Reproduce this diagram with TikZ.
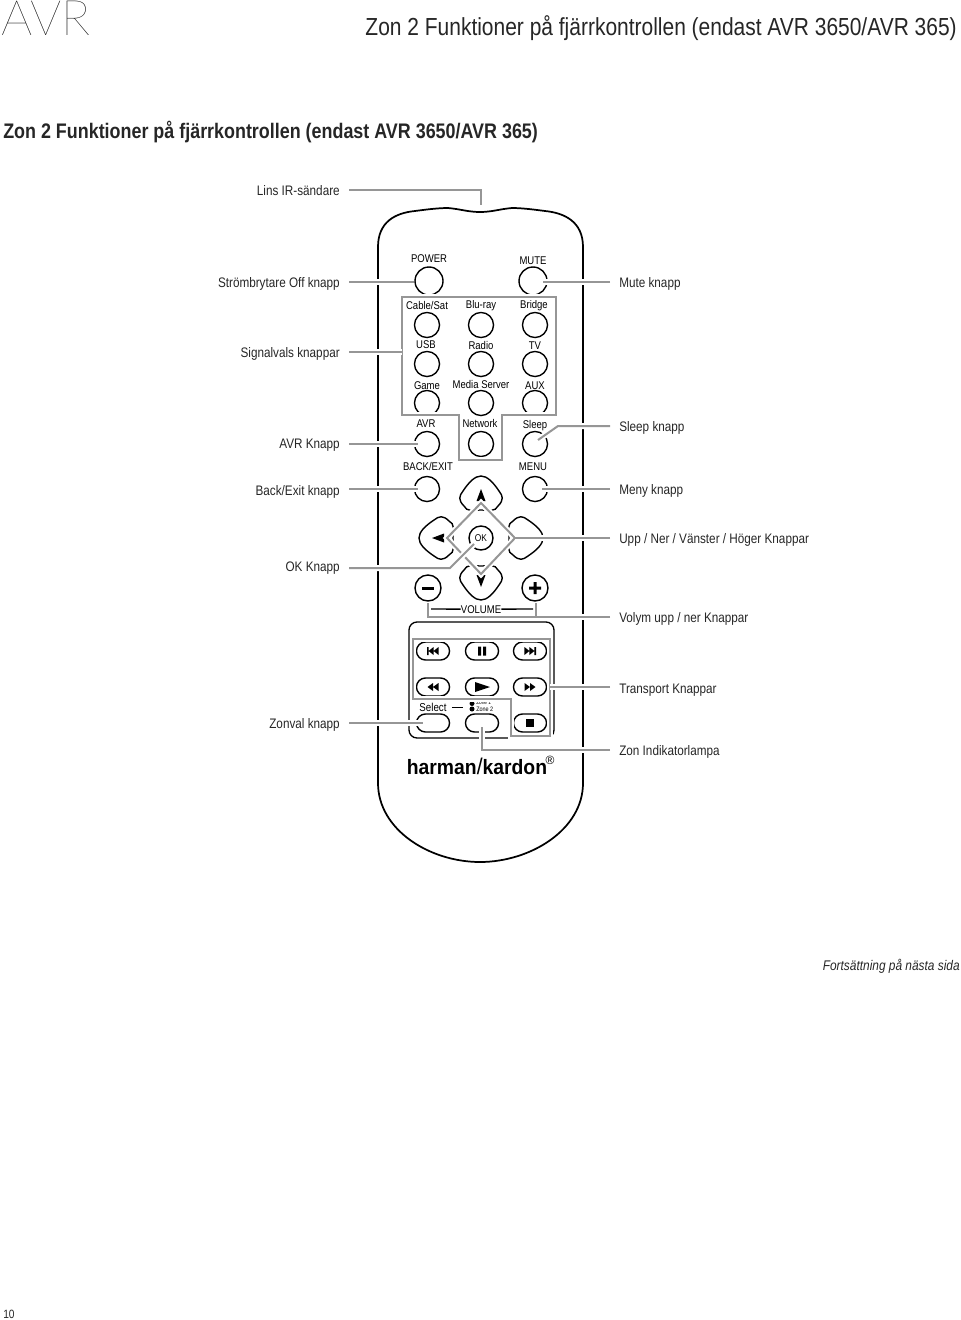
\documentclass[tikz,border=0pt]{standalone}
\usepackage{fontspec}
\setmainfont{Liberation Sans}
\newfontfamily\lightfont{Lato Thin}
\usetikzlibrary{shapes.misc, positioning, calc}
\definecolor{leadgray}{RGB}{150, 150, 150}
\newcommand{\narrowfont}{\addfontfeatures{FakeStretch=0.85}}
\tikzset{
  lbl/.style={font=\fontsize{10.35pt}{12pt}\selectfont\narrowfont, text=black!85, inner sep=0pt},
  keytext/.style={font=\fontsize{8.4pt}{10pt}\selectfont\narrowfont, inner sep=0pt, anchor=base},
  roundkey/.style={circle, draw, line width=1.05pt, minimum size=18.8pt, inner sep=0pt},
  pillkey/.style={rounded rectangle, draw, line width=1.05pt, minimum width=24.8pt, minimum height=13.5pt, inner sep=0pt},
  halo/.style={preaction={draw=white, line width=4.5pt}},
  leader/.style={draw=leadgray, line width=1.5pt, halo},
}
\begin{document}
\begin{tikzpicture}[x=0.75pt, y=-0.75pt]
  \useasboundingbox (0, 0) rectangle (960, 1320);

  % Page header
  \node[font=\fontsize{36.8pt}{38pt}\selectfont\lightfont, anchor=base west, inner sep=0pt] (pagetag) at (1, 36) {AVR};
  \node[font=\fontsize{18.5pt}{20pt}\selectfont\narrowfont, text=black!85, anchor=east, inner sep=0pt] (pagetitle) at (957, 28) {Zon 2 Funktioner på fjärrkontrollen (endast AVR 3650/AVR 365)};
  \node[font=\fontsize{15.8pt}{17pt}\selectfont\bfseries\narrowfont, text=black!85, anchor=west, inner sep=0pt] (heading) at (3, 132) {Zon 2 Funktioner på fjärrkontrollen (endast AVR 3650/AVR 365)};

  % Remote body
  \draw[line width=1.3pt] (378, 247) .. controls (378, 222) and (395, 213) .. (415, 211)
    .. controls (430, 209) and (440, 208) .. (448, 208)
    .. controls (460, 209) and (468, 212) .. (480, 212)
    .. controls (492, 212) and (500, 209) .. (512, 208)
    .. controls (520, 208) and (530, 209) .. (545, 211)
    .. controls (565, 213) and (583, 222) .. (583, 247)
    -- (583, 783) .. controls (583, 830) and (530, 862) .. (480, 862)
    .. controls (430, 862) and (378, 830) .. (378, 783) -- cycle;

  % Round buttons
  \node[roundkey, minimum size=21pt] (power) at (429, 281) {};
  \node[roundkey, minimum size=21pt] (mute) at (533, 281) {};
  \foreach \x/\y/\n in {427/325/cable, 481/325/bluray, 535/325/bridge, 427/364/usb, 481/364/radio, 535/364/tv,
      427/403/game, 481/403/media, 535/403/aux, 427/444/avr, 481/444/network, 535/444/sleep, 427/489/back, 535/489/menu} {
    \node[roundkey] (\n) at (\x, \y) {};
  }

  % Arrow keys
  \foreach \a in {0, 90, 180, 270} {
    \draw[line width=1.05pt, rotate around={\a:(481, 538)}] (481, 510)
      .. controls (472, 510) and (467, 512) .. (464, 506)
      .. controls (458, 500) and (459, 496) .. (463, 491)
      .. controls (469, 482) and (475, 476) .. (481, 476)
      .. controls (487, 476) and (493, 482) .. (499, 491)
      .. controls (503, 496) and (504, 500) .. (498, 506)
      .. controls (495, 512) and (490, 510) .. (481, 510);
  }
  \foreach \a in {0, 90, 180} {
    \fill[rotate around={\a:(481, 538)}] (481, 489) -- (485.5, 501) -- (476.5, 501) -- cycle;
  }
  \node[roundkey, minimum size=18pt, font=\fontsize{7.4pt}{9pt}\selectfont\narrowfont] (okkey) at (481, 538) {OK};

  % Volume
  \node[roundkey, minimum size=19.5pt] (volminus) at (428, 588) {};
  \node[roundkey, minimum size=19.5pt] (volplus) at (535, 588) {};
  \fill (422, 586.5) rectangle (434, 589.5);
  \fill (529, 586.5) rectangle (541, 589.5) (533.5, 582) rectangle (536.5, 594);
  \node[keytext] (volume) at (481, 613) {VOLUME};
  \coordinate (volleft) at (430, 609);
  \coordinate (volright) at (533, 609);
  \draw[line width=1pt] (volleft) -- (volume.west);
  \draw[line width=1pt] (volume.east) -- (volright);

  % Key labels
  \foreach \x/\y/\t/\n in {429/262/POWER/tpower, 533/264/MUTE/tmute, 427/309/{Cable/Sat}/tcable, 481/308/Blu-ray/tblu,
      534/308/Bridge/tbridge, 426/348/USB/tusb, 481/349/Radio/tradio, 535/349/TV/ttv, 427/389/Game/tgame,
      481/388/Media Server/tmedia, 535/389/AUX/taux, 426/427/AVR/tavr, 480/427/Network/tnet, 535/428/Sleep/tsleep,
      428/470/{BACK/EXIT}/tback, 533/470/MENU/tmenu} {
    \node[keytext] (\n) at (\x, \y) {\t};
  }

  % Transport panel
  \draw[line width=1pt, rounded corners=6pt] (409, 622) rectangle (554, 738);
  \foreach \x/\n in {433/a, 482/b, 530/c} {
    \foreach \y/\m in {651/1, 687/2, 723/3} {
      \node[pillkey] (pill\n\m) at (\x, \y) {};
    }
  }
  % Transport symbols
  \fill (pilla1.center) ++(-6, -4) rectangle ++(1.6, 8) (pilla1.center) ++(-4.4, 0) -- ++(5, -4) -- ++(0, 8) -- cycle (pilla1.center) ++(0.6, 0) -- ++(5, -4) -- ++(0, 8) -- cycle;
  \fill (pillb1.center) ++(-4, -4.5) rectangle ++(3, 9) (pillb1.center) ++(1, -4.5) rectangle ++(3, 9);
  \fill (pillc1.center) ++(6, -4) rectangle ++(-1.6, 8) (pillc1.center) ++(4.4, 0) -- ++(-5, -4) -- ++(0, 8) -- cycle (pillc1.center) ++(-0.6, 0) -- ++(-5, -4) -- ++(0, 8) -- cycle;
  \fill (pilla2.center) ++(-5.5, 0) -- ++(5.5, -4) -- ++(0, 8) -- cycle (pilla2.center) -- ++(5.5, -4) -- ++(0, 8) -- cycle;
  \fill (pillb2.center) ++(-7, -5) -- ++(15, 5) -- ++(-15, 5) -- cycle;
  \fill (pillc2.center) ++(5.5, 0) -- ++(-5.5, -4) -- ++(0, 8) -- cycle (pillc2.center) -- ++(-5.5, -4) -- ++(0, 8) -- cycle;
  \fill (pillc3.center) ++(-4, -4) rectangle ++(8, 8);

  % Zone indicator
  \node[font=\fontsize{8.6pt}{10pt}\selectfont\narrowfont, inner sep=0pt] (selecttxt) at (433, 707) {Select};
  \node[font=\fontsize{4.2pt}{5pt}\selectfont\narrowfont, inner sep=0pt, anchor=west] (zoneone) at (476, 703) {Zone 1};
  \node[font=\fontsize{4.8pt}{5pt}\selectfont\narrowfont, inner sep=0pt, anchor=west] (zonetwo) at (476, 709) {Zone 2};
  \fill (472, 703.5) circle (2.5);
  \fill (472, 709) circle (2.5);
  \coordinate (dashend) at (463, 707.5);
  \draw[line width=1pt] ($(selecttxt.east)+(5, 0.5)$) -- (dashend);
  \node[font=\fontsize{15.6pt}{16pt}\selectfont\bfseries\addfontfeatures{FakeStretch=0.93}, inner sep=0pt] (brand) at (477, 766) {harman{\fontseries{m}\fontsize{17pt}{18pt}\selectfont/}kardon};
  \node[font=\fontsize{9pt}{10pt}\selectfont, inner sep=0pt] (regmark) at (550, 760) {®};

  % Highlight boxes
  \draw[leader] (402, 297) -- (556, 297) -- (556, 415) -- (502, 415) -- (502, 460) -- (459, 460) -- (459, 415) -- (402, 415) -- cycle;
  \draw[leader] (481, 503) -- (515, 538) -- (481, 574) -- (447, 538) -- cycle;
  \draw[leader] (413, 639) -- (550, 639) -- (550, 736) -- (511, 736) -- (511, 699) -- (413, 699) -- cycle;

  % Left labels
  \foreach \y/\t/\n in {195/Lins IR-sändare/lins, 287/Strömbrytare Off knapp/stromb, 357/Signalvals knappar/signal,
      448/AVR Knapp/avrk, 495/{Back/Exit knapp}/backk, 571/OK Knapp/okk, 728/Zonval knapp/zonval} {
    \node[lbl, anchor=base east] (\n) at (340, \y) {\t};
  }
  % Right labels
  \foreach \y/\t/\n in {287/Mute knapp/mutek, 431/Sleep knapp/sleepk, 494/Meny knapp/menyk, 543/{Upp / Ner / Vänster / Höger Knappar}/uppk,
      622/{Volym upp / ner Knappar}/volk, 693/Transport Knappar/transk, 755/Zon Indikatorlampa/zonk} {
    \node[lbl, anchor=base west] (\n) at (619, \y) {\t};
  }

  % Leaders
  \coordinate (irlens) at (481, 205);
  \coordinate (okcorner) at (450, 568);
  \coordinate (sleepcorner) at (558, 426);
  \coordinate (volcorner) at (428, 617);
  \coordinate (volplusend) at (536, 617);
  \coordinate (zoncorner) at (482, 750);
  \draw[leader] ($(lins.base east)+(9, -5)$) -| (irlens);
  \draw[leader] ($(stromb.base east)+(9, -5)$) -- ($(power.center)+(-15, 1)$);
  \draw[leader] ($(signal.base east)+(9, -5)$) -- (402, 352);
  \draw[leader] ($(avrk.base east)+(9, -4)$) -- ($(avr.center)+(-9, 0)$);
  \draw[leader] ($(backk.base east)+(9, -6)$) -- ($(back.center)+(-9, 0)$);
  \draw[leader] ($(okk.base east)+(9, -3)$) -- (okcorner) -- ($(okkey.center)+(-7, 6)$);
  \draw[leader] ($(zonval.base east)+(9, -5)$) -- ($(pilla3.center)+(-10, 0)$);
  \draw[leader] ($(mutek.base west)+(-9, -5)$) -- ($(mute.center)+(10, 1)$);
  \draw[leader] ($(sleepk.base west)+(-9, -5)$) -- (sleepcorner) -- ($(sleep.center)+(3, -4)$);
  \draw[leader] ($(menyk.base west)+(-9, -5)$) -- ($(menu.center)+(7, 0)$);
  \draw[leader] ($(uppk.base west)+(-9, -5)$) -- (515, 538);
  \draw[leader] ($(volk.base west)+(-9, -5)$) -- (volcorner) -- ($(volminus.south)+(0, 1)$);
  \draw[draw=leadgray, line width=1.5pt] (volplusend) -- ($(volplus.south)+(1, 1)$);
  \draw[leader] ($(transk.base west)+(-9, -6)$) -- (550, 687);
  \draw[leader] ($(zonk.base west)+(-9, -5)$) -- (zoncorner) -- ($(pillb3.center)+(0, 4)$);

  % Footer
  \node[font=\fontsize{10.5pt}{12pt}\selectfont\itshape\narrowfont, text=black!85, anchor=east, inner sep=0pt] (nextpage) at (960, 966) {Fortsättning på nästa sida};
  \node[font=\fontsize{9pt}{10pt}\selectfont\narrowfont, text=black!85, anchor=west, inner sep=0pt] (pageno) at (3, 1314) {10};
\end{tikzpicture}
\end{document}
